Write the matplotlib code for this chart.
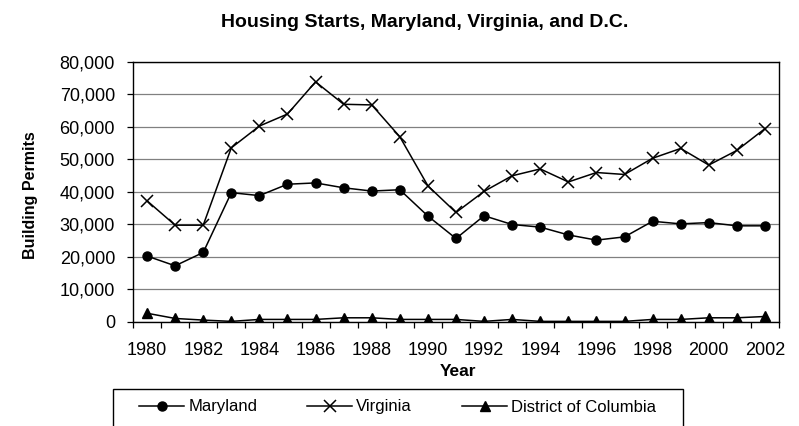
import numpy as np
import matplotlib
matplotlib.use("Agg")
import matplotlib.pyplot as plt
from matplotlib.patches import Rectangle
from matplotlib.ticker import FuncFormatter, FixedLocator

plt.rcParams["font.family"] = ["Liberation Sans", "DejaVu Sans"]

years = list(range(1980, 2003))
maryland = [20200, 17200, 21300, 39700, 38800, 42300, 42700, 41200, 40200, 40600,
            32500, 25600, 32600, 29900, 29100, 26700, 25100, 26100, 30900, 30100,
            30500, 29500, 29500]
virginia = [37200, 29700, 29700, 53500, 60200, 63900, 73800, 66900, 66700, 56900,
            41800, 33600, 40100, 44900, 47000, 43000, 45900, 45300, 50300, 53300,
            48200, 52700, 59400]
dc = [2600, 1000, 500, 100, 700, 700, 700, 1200, 1200, 700,
      700, 700, 100, 700, 100, 100, 100, 100, 700, 700,
      1200, 1200, 1600]

W, H = 799, 426
fig = plt.figure(figsize=(W / 100, H / 100), dpi=100)
ax = fig.add_axes([133 / W, 1 - 321.7 / H, 646 / W, 260 / H])

x = np.arange(len(years))
ax.plot(x, maryland, color="black", lw=1.1, marker="o", ms=6.5, label="Maryland")
ax.plot(x, virginia, color="black", lw=1.1, marker="x", ms=8, mew=1.1, label="Virginia")
ax.plot(x, dc, color="black", lw=1.1, marker="^", ms=7, label="District of Columbia")

ax.set_xlim(-0.5, len(years) - 0.5)
ax.set_ylim(0, 80000)
ax.set_yticks(range(0, 80001, 10000))
ax.yaxis.set_major_formatter(FuncFormatter(lambda v, p: f"{int(v):,}"))
ax.yaxis.grid(True, color="#808080", lw=0.9)
ax.set_axisbelow(True)

ax.set_xticks(x[::2])
ax.set_xticklabels([str(y) for y in years[::2]])
ax.xaxis.set_minor_locator(FixedLocator(np.arange(-0.5, len(years), 1.0)))
ax.tick_params(axis="x", which="major", length=0, pad=14.3, labelsize=13)
ax.tick_params(axis="x", which="minor", length=4.3, direction="out", width=0.9)
ax.tick_params(axis="y", length=4.3, width=0.9, labelsize=13, pad=8.6)

for s in ax.spines.values():
    s.set_color("black")
    s.set_linewidth(1.0)

# axis titles and chart title
fig.text(30 / W, 1 - 195 / H, "Building Permits", rotation=90, ha="center", va="center",
         fontsize=11.5, fontweight="bold")
fig.text(458 / W, 1 - 376 / H, "Year", ha="center", va="baseline",
         fontsize=12.5, fontweight="bold")
fig.text(425 / W, 1 - 27 / H, "Housing Starts, Maryland, Virginia, and D.C.",
         ha="center", va="baseline", fontsize=14, fontweight="bold")

# legend box runs off the bottom edge like the original
fig.patches.append(Rectangle((113 / W, -0.05), 570 / W, 0.05 + 1 - 389 / H,
                             transform=fig.transFigure, facecolor="white",
                             edgecolor="black", lw=1.0))
fig.legend(loc="center left", bbox_to_anchor=(139 / W, 1 - 407 / H), ncol=3,
           fontsize=12, frameon=False, borderpad=0, borderaxespad=0,
           handlelength=2.7, handletextpad=0.25, columnspacing=3.0)

fig.savefig("out.png", dpi=100)
